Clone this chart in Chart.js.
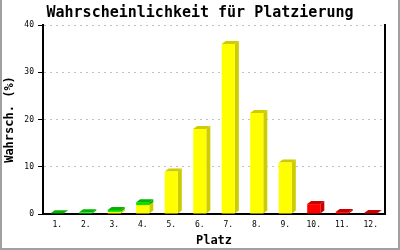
<!DOCTYPE html>
<html>
<head>
<meta charset="utf-8">
<script src="https://cdn.jsdelivr.net/npm/chart.js@4/dist/chart.umd.min.js"></script>
<style>
  html, body { margin: 0; padding: 0; background: #fff; }
  #wrap { width: 400px; height: 250px; position: relative; }
</style>
</head>
<body>
<div id="wrap"><canvas id="chart" width="400" height="250"></canvas></div>
<script>
// === Data ===
const places = ["1.", "2.", "3.", "4.", "5.", "6.", "7.", "8.", "9.", "10.", "11.", "12."];
const yellowValues = [0, 0, 0.45, 1.9, 9.0, 18.0, 36.0, 21.4, 10.9, 0, 0, 0];
const greenValues = [0.15, 0.35, 0.4, 0.6, 0, 0, 0, 0, 0, 0, 0, 0];
const redValues = [0, 0, 0, 0, 0, 0, 0, 0, 0, 2.1, 0.4, 0.2];
const yTicks = [0, 10, 20, 30, 40];

const MONO = "'DejaVu Sans Mono', 'Liberation Mono', monospace";

// fake 3d: side + top faces behind each bar front
const depth3d = {
  id: "depth3d",
  beforeDatasetsDraw(chart) {
    const ctx = chart.ctx;
    const dx = 4, dy = 3;
    chart.data.datasets.forEach((ds, i) => {
      const meta = chart.getDatasetMeta(i);
      meta.data.forEach((bar, j) => {
        if (!ds.data[j]) return;
        const { x, y, base, width } = bar.getProps(["x", "y", "base", "width"], true);
        const l = x - width / 2, r = x + width / 2;
        ctx.save();
        ctx.fillStyle = ds.darkColor;
        ctx.beginPath();
        ctx.moveTo(r, y);
        ctx.lineTo(r + dx, y - dy);
        ctx.lineTo(r + dx, base - dy);
        ctx.lineTo(r, base);
        ctx.closePath();
        ctx.fill();
        ctx.beginPath();
        ctx.moveTo(l, y);
        ctx.lineTo(l + dx, y - dy);
        ctx.lineTo(r + dx, y - dy);
        ctx.lineTo(r, y);
        ctx.closePath();
        ctx.fill();
        ctx.restore();
      });
    });
  }
};

// grey frame round the picture
const frame = {
  id: "frame",
  afterDraw(chart) {
    const ctx = chart.ctx;
    ctx.save();
    ctx.strokeStyle = "#a0a0a0";
    ctx.lineWidth = 2;
    ctx.beginPath();
    ctx.moveTo(1, 0);
    ctx.lineTo(1, chart.height - 1);
    ctx.lineTo(chart.width - 1, chart.height - 1);
    ctx.lineTo(chart.width - 1, 0);
    ctx.stroke();
    ctx.restore();
  }
};

new Chart(document.getElementById("chart"), {
  type: "bar",
  data: {
    labels: places,
    datasets: [
      { data: yellowValues, backgroundColor: "#ffff00", darkColor: "#cccc00" },
      { data: greenValues, backgroundColor: "#00e000", darkColor: "#00b400" },
      { data: redValues, backgroundColor: "#ff0000", darkColor: "#c80000" }
    ]
  },
  options: {
    responsive: false,
    animation: false,
    events: [],
    layout: { padding: 0 },
    categoryPercentage: 1,
    barPercentage: 0.46,
    plugins: {
      legend: { display: false },
      tooltip: { enabled: false },
      title: {
        display: true,
        text: "Wahrscheinlichkeit für Platzierung",
        color: "#000",
        font: { family: MONO, size: 15, weight: "bold", lineHeight: 1.2 },
        padding: { top: 4.5, bottom: 2.5 }
      }
    },
    scales: {
      x: {
        stacked: true,
        grid: { display: false, drawTicks: false, tickLength: 0 },
        border: { color: "#000", width: 2 },
        ticks: { color: "#000", font: { family: MONO, size: 8 }, padding: 6, maxRotation: 0, autoSkip: false },
        title: {
          display: true,
          text: "Platz",
          color: "#000",
          font: { family: MONO, size: 12, weight: "bold", lineHeight: 1.2 },
          padding: { top: 0, bottom: 2 }
        },
        afterFit(s) { s.height = 36; }
      },
      y: {
        stacked: true,
        min: 0,
        max: 40,
        afterBuildTicks(s) { s.ticks = yTicks.map(v => ({ value: v })); },
        grid: { color: "#c0c0c0", tickColor: "#000", tickLength: 5, lineWidth: 1 },
        border: { color: "#000", width: 2, dash: [2, 4] },
        ticks: { color: "#000", font: { family: MONO, size: 8 }, padding: 4 },
        title: {
          display: true,
          text: "Wahrsch. (%)",
          color: "#000",
          font: { family: MONO, size: 12, weight: "bold", lineHeight: 1.2 },
          padding: { top: 3, bottom: 0 }
        },
        afterFit(s) { s.width = 43; }
      },
      y2: {
        position: "right",
        display: true,
        grid: { display: false },
        border: { display: true, color: "#000", width: 2 },
        ticks: { display: false },
        afterFit(s) { s.width = 15; }
      }
    }
  },
  plugins: [depth3d, frame]
});
</script>
</body>
</html>
